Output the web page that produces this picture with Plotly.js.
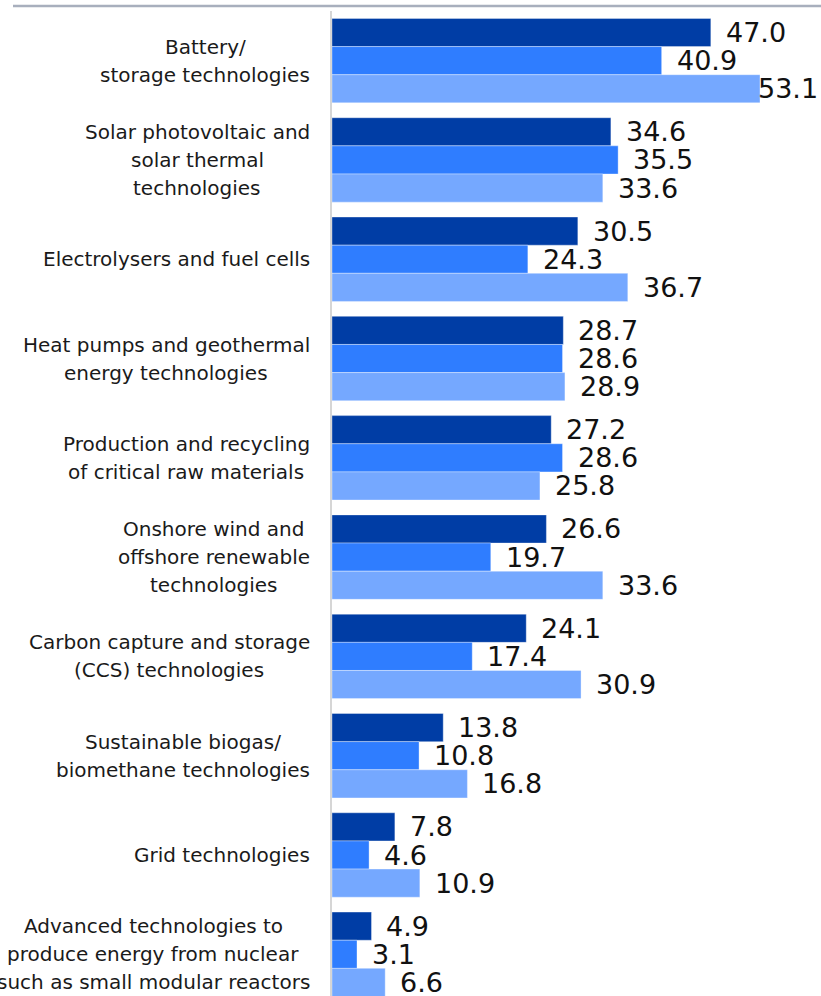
<!DOCTYPE html>
<html>
<head>
<meta charset="utf-8">
<script src="https://cdn.plot.ly/plotly-3.0.1.min.js"></script>
<style>html,body{margin:0;padding:0;background:#fff;}#chart{width:821px;height:996px;}</style>
</head>
<body>
<div id="chart"></div>
<script>
const categories = [
  "Battery/<br>storage technologies",
  "Solar photovoltaic and<br>solar thermal<br>technologies",
  "Electrolysers and fuel cells",
  "Heat pumps and geothermal<br>energy technologies",
  "Production and recycling<br>of critical raw materials",
  "Onshore wind and<br>offshore renewable<br>technologies",
  "Carbon capture and storage<br>(CCS) technologies",
  "Sustainable biogas/<br>biomethane technologies",
  "Grid technologies",
  "Advanced technologies to<br>produce energy from nuclear<br>such as small modular reactors"
];
const seriesNames = ["Series 1", "Series 2", "Series 3"];
const series1 = [47.0, 34.6, 30.5, 28.7, 27.2, 26.6, 24.1, 13.8, 7.8, 4.9];
const series2 = [40.9, 35.5, 24.3, 28.6, 28.6, 19.7, 17.4, 10.8, 4.6, 3.1];
const series3 = [53.1, 33.6, 36.7, 28.9, 25.8, 33.6, 30.9, 16.8, 10.9, 6.6];
const colors = ["#003DA5", "#2F7DFF", "#75A8FF"];

const FONT = "DejaVu Sans, Verdana, sans-serif";
const allSeries = [series1, series2, series3];

// layout geometry
const W = 821, H = 996, ML = 332, MT = 11;
const XMAX = 60.67, YRANGE = [9.42, -0.5];
const plotW = W - ML, plotH = H - MT;
const pxPerX = plotW / XMAX;
const pxPerCat = plotH / (YRANGE[0] - YRANGE[1]);
const BARGAP = 0.15;
const barThick = pxPerCat * (1 - BARGAP) / allSeries.length;

const traces = allSeries.map((vals, i) => ({
  type: "bar",
  orientation: "h",
  name: seriesNames[i],
  y: categories,
  x: vals,
  marker: {color: colors[i], line: {color: "rgba(255,255,255,0.35)", width: 1}},
  hoverinfo: "x+name"
}));

// text measuring
const cv = document.createElement("canvas").getContext("2d");
function textW(t, size) { cv.font = size + "px 'DejaVu Sans'"; return cv.measureText(t).width; }

const annotations = [];
// value labels
const VAL_SIZE = 27;
allSeries.forEach((vals, i) => {
  const yshift = (allSeries.length - 1) / 2 * barThick - i * barThick;
  vals.forEach((v, j) => {
    const label = v.toFixed(1);
    const tw = textW(label, VAL_SIZE);
    const endPx = ML + v * pxPerX + 13 + tw + 4;
    const over = endPx > W - 2;
    annotations.push({
      xref: over ? "paper" : "x", yref: "y",
      x: over ? 1 : v, y: categories[j],
      xanchor: over ? "right" : "left", yanchor: "middle",
      xshift: over ? -1 : 13, yshift: yshift,
      text: label, showarrow: false,
      font: {family: FONT, size: VAL_SIZE, color: "#111"}
    });
  });
});

// category labels: centered multi-line, right edge at fixed gap, 28px line pitch
const CAT_SIZE = 20, LINE_PITCH = 28, GAP = 22;
categories.forEach(c => {
  const lines = c.split("<br>");
  const maxW = Math.max(...lines.map(l => textW(l, CAT_SIZE)));
  lines.forEach((l, k) => {
    annotations.push({
      xref: "x", yref: "y", x: 0, y: c,
      xanchor: "center", yanchor: "middle",
      xshift: -(GAP + maxW / 2), yshift: ((lines.length - 1) / 2 - k) * LINE_PITCH,
      text: l, showarrow: false,
      font: {family: FONT, size: CAT_SIZE, color: "#1a1a1a"}
    });
  });
});

const layout = {
  width: W, height: H,
  margin: {l: ML, r: 0, t: MT, b: 0, pad: 0},
  paper_bgcolor: "#fff", plot_bgcolor: "#fff",
  showlegend: false,
  barmode: "group",
  bargap: BARGAP, bargroupgap: 0,
  xaxis: {range: [0, XMAX], showgrid: false, zeroline: false, showticklabels: false, showline: false, fixedrange: true},
  yaxis: {type: "category", range: YRANGE, showgrid: false, zeroline: false, showticklabels: false,
          showline: true, linecolor: "#d6d6d6", linewidth: 2, fixedrange: true},
  annotations: annotations,
  shapes: [{type: "line", xref: "paper", yref: "paper",
            x0: (13 - ML) / plotW, x1: 1, y0: 1 + 5 / plotH, y1: 1 + 5 / plotH,
            line: {color: "#a8afbd", width: 2.5}}]
};

document.fonts && document.fonts.load("20px 'DejaVu Sans'");
Plotly.newPlot("chart", traces, layout, {displayModeBar: false, staticPlot: true});
</script>
</body>
</html>
